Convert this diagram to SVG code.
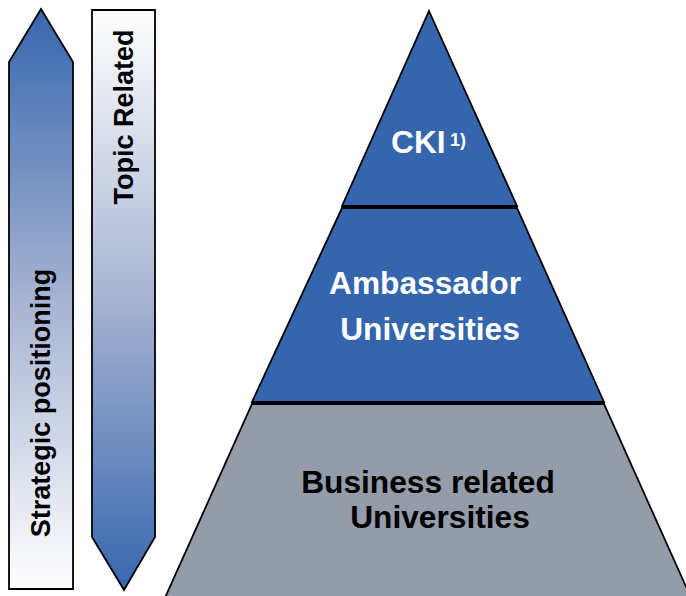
<svg xmlns="http://www.w3.org/2000/svg" width="686" height="596" viewBox="0 0 686 596">
<defs>
<linearGradient id="gUp" x1="0" y1="0" x2="0" y2="1">
<stop offset="0" stop-color="#3766ae"/>
<stop offset="0.5" stop-color="#a6b3d2"/>
<stop offset="1" stop-color="#ffffff"/>
</linearGradient>
<linearGradient id="gDown" x1="0" y1="0" x2="0" y2="1">
<stop offset="0" stop-color="#ffffff"/>
<stop offset="0.5" stop-color="#a6b3d2"/>
<stop offset="1" stop-color="#3766ae"/>
</linearGradient>
<style>
.arr{stroke:#000;stroke-width:1.8;stroke-linejoin:miter}
.lbl{font-family:"Liberation Sans",Arial,sans-serif;font-weight:bold}
.side{font-size:27px;fill:#000}
.blue{fill:#3465ad;stroke:#000;stroke-width:1.8}
.gray{fill:#939ca8;stroke:#000;stroke-width:1.8}
.pt{font-size:31.7px;text-anchor:middle}
</style>
</defs>
<g id="strategic-positioning">
<polygon class="arr" fill="url(#gUp)" points="9,62 41,9 73,62 73,589 9,589"/>
<text class="lbl side" text-anchor="middle" transform="translate(50,403) rotate(-90)">Strategic positioning</text>
</g>
<g id="topic-related">
<polygon class="arr" fill="url(#gDown)" points="92,10 155,10 155,537 124,590 92,537"/>
<text class="lbl side" text-anchor="middle" transform="translate(133,117) rotate(-90)">Topic Related</text>
</g>
<g id="tier-business">
<polygon class="gray" points="252,404 604,404 692,600 164,600"/>
<text class="lbl pt" fill="#000" x="428" y="493">Business related</text>
<text class="lbl pt" fill="#000" x="440" y="528">Universities</text>
</g>
<g id="tier-ambassador">
<polygon class="blue" points="342,208 517,208 604,402 252,402"/>
<text class="lbl pt" fill="#fff" x="425" y="294">Ambassador</text>
<text class="lbl pt" fill="#fff" x="430" y="340">Universities</text>
</g>
<g id="tier-cki">
<polygon class="blue" points="429,11 517,206 342,206"/>
<text class="lbl" fill="#fff" font-size="31.7" x="391" y="153">CKI</text>
<text class="lbl" fill="#fff" font-size="18" x="450" y="146">1)</text>
</g>
</svg>
